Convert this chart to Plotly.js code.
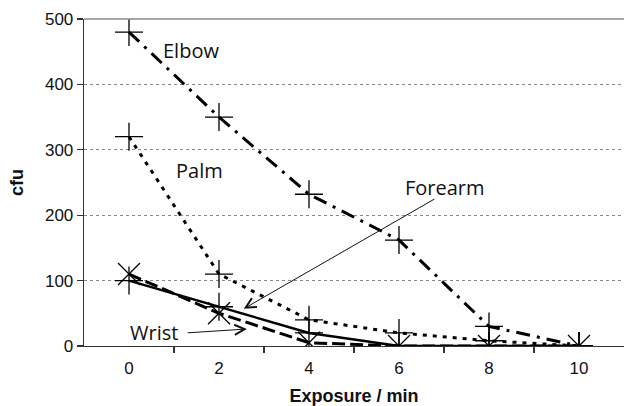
<!DOCTYPE html>
<html>
<head>
<meta charset="utf-8">
<script src="https://cdn.plot.ly/plotly-3.0.1.min.js"></script>
<style>html,body{margin:0;padding:0;background:#fff;}#chart{width:624px;height:406px;}</style>
</head>
<body>
<div id="chart"></div>
<script>
var exposure = [0, 2, 4, 6, 8, 10];
var elbow   = [480, 350, 232, 162, 30, 0];
var palm    = [320, 110, 40, 20, 8, 0];
var forearm = [100, 60, 20, 0, 0, 0];
var wrist   = [110, 50, 5, 0, 0, 0];
var xTicks = [0, 2, 4, 6, 8, 10];
var yTicks = [0, 100, 200, 300, 400, 500];

var plusMarker = {symbol: 'cross-thin-open', size: 20, color: '#000', line: {width: 1.3, color: '#000'}};
var xMarker = {symbol: 'x-thin-open', size: 22, color: '#000', line: {width: 1.3, color: '#000'}};

var traces = [
  {x: exposure, y: elbow, name: 'Elbow', mode: 'lines+markers',
   line: {color: '#000', width: 3, dash: '14px,7px,3px,7px'}, marker: plusMarker},
  {x: exposure, y: palm, name: 'Palm', mode: 'lines+markers',
   line: {color: '#000', width: 3, dash: '4px,6px'}, marker: plusMarker},
  {x: exposure, y: wrist, name: 'Wrist', mode: 'lines+markers',
   line: {color: '#000', width: 3, dash: '13px,5px'}, marker: xMarker},
  {x: exposure, y: forearm, name: 'Forearm', mode: 'lines+markers',
   line: {color: '#000', width: 2.5}, marker: plusMarker}
];

var txtFont = {family: 'Open Sans, sans-serif', size: 20, color: '#111'};
var layout = {
  width: 624, height: 406,
  margin: {l: 84, r: 0, t: 19, b: 60},
  paper_bgcolor: '#fff', plot_bgcolor: '#fff',
  showlegend: false,
  font: {family: 'Liberation Sans, Arial, sans-serif', size: 17, color: '#111'},
  xaxis: {
    range: [-1, 11], tickvals: xTicks, ticktext: xTicks.map(String),
    ticks: '', showgrid: false, zeroline: false,
    showline: true, linecolor: '#333', linewidth: 1.3,
    ticklabelstandoff: 6,
    minor: {tickvals: [1, 3, 5, 7, 9], ticks: 'outside', ticklen: 6, tickcolor: '#333', tickwidth: 1.3, showgrid: false},
    title: {text: '<b>Exposure / min</b>', font: {size: 18}, standoff: 12}
  },
  yaxis: {
    range: [0, 500], tickvals: yTicks, ticks: 'outside', ticklen: 6, tickcolor: '#333', tickwidth: 1.3,
    showline: true, linecolor: '#333', linewidth: 1.3, zeroline: false,
    showgrid: true, gridcolor: '#888', griddash: 'dot', gridwidth: 1,
    title: {text: '<b>cfu</b>', font: {size: 18}, standoff: 16}
  },
  shapes: [
    {type: 'line', xref: 'paper', yref: 'paper', x0: 0, x1: 1, y0: 1, y1: 1, line: {color: '#888', width: 1.5}}
  ],
  annotations: [
    {x: 1.38, y: 452, xref: 'x', yref: 'y', text: 'Elbow', showarrow: false, font: txtFont},
    {x: 1.56, y: 268, xref: 'x', yref: 'y', text: 'Palm', showarrow: false, font: txtFont},
    {x: 7.02, y: 243, xref: 'x', yref: 'y', text: 'Forearm', showarrow: false, font: txtFont},
    {x: 0.56, y: 21, xref: 'x', yref: 'y', text: 'Wrist', showarrow: false, font: txtFont},
    {x: 2.55, y: 57, xref: 'x', yref: 'y', axref: 'x', ayref: 'y', ax: 6.82, ay: 226, text: '',
     showarrow: true, arrowhead: 5, arrowsize: 2, arrowwidth: 1, arrowcolor: '#111'},
    {x: 2.62, y: 26, xref: 'x', yref: 'y', axref: 'x', ayref: 'y', ax: 1.27, ay: 20, text: '',
     showarrow: true, arrowhead: 5, arrowsize: 2, arrowwidth: 1, arrowcolor: '#111'}
  ]
};

Plotly.newPlot('chart', traces, layout, {displayModeBar: false, staticPlot: true});
</script>
</body>
</html>
